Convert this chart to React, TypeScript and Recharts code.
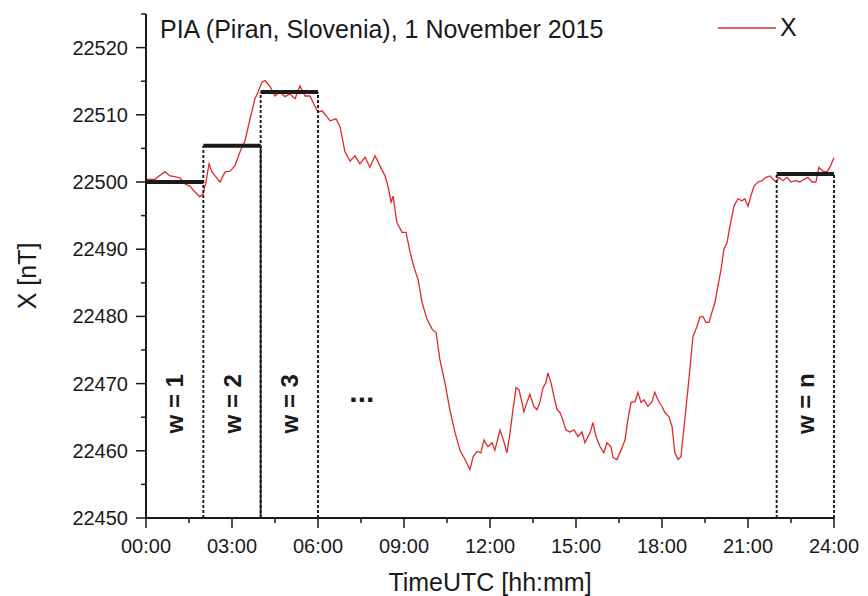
import React from 'react';
import { Label, Legend, Line, LineChart, ReferenceDot, ReferenceLine, XAxis, YAxis } from 'recharts';

// time of day in hours (UTC) and X component in nT
const hours = [
  0.0, 0.03, 0.31, 0.49, 0.66, 0.84, 1.01, 1.19, 1.36, 1.53, 1.71, 1.88, 1.99, 2.09, 2.2, 2.3, 2.41, 2.58, 2.76, 2.93,
  3.1, 3.28, 3.45, 3.63, 3.8, 3.91, 4.05, 4.15, 4.33, 4.5, 4.67, 4.85, 5.02, 5.2, 5.37, 5.55, 5.72, 5.89, 6.0, 6.14,
  6.28, 6.42, 6.63, 6.77, 6.94, 7.12, 7.29, 7.46, 7.64, 7.81, 7.99, 8.16, 8.34, 8.44, 8.55, 8.62, 8.75, 8.93, 9.07, 9.21,
  9.35, 9.49, 9.63, 9.8, 9.98, 10.12, 10.25, 10.43, 10.6, 10.78, 10.95, 11.13, 11.3, 11.41, 11.55, 11.68, 11.79, 11.93,
  12.07, 12.17, 12.28, 12.35, 12.49, 12.59, 12.7, 12.8, 12.91, 13.01, 13.11, 13.18, 13.29, 13.39, 13.53, 13.64, 13.74,
  13.85, 13.95, 14.02, 14.13, 14.23, 14.34, 14.44, 14.54, 14.65, 14.79, 14.93, 15.07, 15.21, 15.31, 15.49, 15.59, 15.7,
  15.84, 15.97, 16.08, 16.22, 16.29, 16.43, 16.57, 16.71, 16.81, 16.92, 17.06, 17.16, 17.27, 17.37, 17.51, 17.65, 17.75,
  17.89, 18.0, 18.1, 18.24, 18.35, 18.45, 18.56, 18.66, 18.77, 18.91, 18.97, 19.08, 19.22, 19.32, 19.43, 19.53, 19.64,
  19.74, 19.85, 19.95, 20.06, 20.16, 20.27, 20.37, 20.51, 20.65, 20.79, 20.89, 21.0, 21.1, 21.21, 21.35, 21.49, 21.63,
  21.77, 21.87, 21.98, 22.08, 22.22, 22.36, 22.5, 22.64, 22.81, 22.95, 23.09, 23.23, 23.37, 23.47, 23.61, 23.75, 23.86,
  24.0,
];

const xValues = [
  22500.0, 22500.4, 22500.4, 22501.0, 22501.5, 22500.9, 22500.8, 22500.6, 22499.7, 22499.4, 22498.5, 22497.8, 22498.2,
  22500.0, 22502.7, 22501.5, 22500.9, 22500.0, 22501.5, 22501.6, 22502.4, 22504.5, 22506.1, 22509.4, 22512.4, 22513.4,
  22514.9, 22515.1, 22514.2, 22512.8, 22513.4, 22512.7, 22513.1, 22512.4, 22514.3, 22512.8, 22512.8, 22511.3, 22510.4,
  22510.6, 22509.9, 22509.1, 22509.4, 22508.2, 22504.5, 22503.1, 22503.9, 22502.7, 22503.7, 22502.2, 22503.9, 22502.4,
  22500.9, 22499.4, 22497.0, 22497.9, 22494.0, 22492.5, 22492.5, 22489.6, 22487.3, 22485.5, 22482.1, 22479.6, 22478.1,
  22477.6, 22473.6, 22470.1, 22466.1, 22462.7, 22460.1, 22458.7, 22457.2, 22459.1, 22459.9, 22459.7, 22461.6, 22460.6,
  22461.2, 22460.1, 22461.9, 22463.1, 22461.3, 22459.7, 22462.7, 22466.1, 22469.4, 22469.1, 22467.3, 22465.8, 22467.2,
  22468.4, 22466.6, 22466.1, 22467.2, 22469.4, 22470.1, 22471.6, 22470.1, 22468.1, 22466.1, 22465.7, 22464.6, 22463.1,
  22462.8, 22463.1, 22462.1, 22462.8, 22461.2, 22462.7, 22464.2, 22462.1, 22460.6, 22459.7, 22461.2, 22460.6, 22459.0,
  22458.7, 22460.1, 22461.6, 22464.6, 22467.2, 22467.3, 22468.7, 22467.2, 22467.6, 22466.6, 22467.3, 22468.7, 22467.3,
  22466.6, 22465.7, 22465.1, 22463.6, 22459.7, 22458.7, 22459.1, 22463.6, 22469.4, 22472.1, 22477.0, 22478.5, 22479.9,
  22480.0, 22479.1, 22479.1, 22480.6, 22482.1, 22484.5, 22487.0, 22490.0, 22491.0, 22493.4, 22496.4, 22497.5, 22497.2,
  22497.5, 22496.4, 22497.9, 22499.4, 22500.0, 22500.2, 22500.7, 22500.9, 22500.4, 22500.0, 22500.7, 22500.2, 22500.7,
  22500.0, 22500.2, 22500.0, 22500.4, 22500.7, 22500.0, 22500.0, 22502.2, 22501.6, 22501.5, 22502.2, 22503.6,
];

// sliding windows (start, end in hours) and their mean levels
const windowStart = [0, 2, 4, 22];
const windowEnd = [2, 4, 6, 24];
const windowMean = [22500.0, 22505.4, 22513.4, 22501.2];
const windowLabels = ['w = 1', 'w = 2', 'w = 3', 'w = n'];
const windowLabelLevel = 22467.0;
const dotsTime = 7.53;
const dotsLevel = 22468.8;
const baseLevel = 22450;

const xTicks = [0, 1.5, 3, 4.5, 6, 7.5, 9, 10.5, 12, 13.5, 15, 16.5, 18, 19.5, 21, 22.5, 24];
const yTicks = [22450, 22455, 22460, 22465, 22470, 22475, 22480, 22485, 22490, 22495, 22500, 22505, 22510, 22515, 22520, 22525];

const data = hours.map((t, i) => ({ t, x: xValues[i] }));

// window edges: each edge rises to the highest mean of the windows touching it
const edges: { t: number; top: number }[] = [];
windowStart.forEach((s, i) => {
  [s, windowEnd[i]].forEach((t) => {
    const found = edges.find((e) => e.t === t);
    if (found) found.top = Math.max(found.top, windowMean[i]);
    else edges.push({ t, top: windowMean[i] });
  });
});

const font = "'Liberation Sans', Arial, sans-serif";
const ink = '#1a1a1a';
const red = '#e0292a';

const fmtTime = (h: number) => `${String(Math.floor(h)).padStart(2, '0')}:00`;

const YTick = ({ x, y, payload }: any) => {
  const major = payload.value % 10 === 0;
  const ax = x + 18;
  return (
    <g>
      <line x1={ax - (major ? 10 : 5)} x2={ax} y1={y} y2={y} stroke={ink} strokeWidth={1.5} />
      {major && (
        <text x={x} y={y + 7} textAnchor="end" fontSize={20} fontFamily={font} fill={ink}>
          {payload.value}
        </text>
      )}
    </g>
  );
};

const XTick = ({ x, y, payload }: any) => {
  const major = payload.value % 3 === 0;
  const ay = y - 14;
  return (
    <g>
      <line x1={x} x2={x} y1={ay} y2={ay + (major ? 10 : 5)} stroke={ink} strokeWidth={1.5} />
      {major && (
        <text x={x} y={y + 21} textAnchor="middle" fontSize={20} fontFamily={font} fill={ink}>
          {fmtTime(payload.value)}
        </text>
      )}
    </g>
  );
};

const legendContent = () => (
  <div style={{ display: 'flex', alignItems: 'center', fontFamily: font, fontSize: 25, lineHeight: 1, color: ink }}>
    <svg width={58} height={4}>
      <line x1={0} x2={58} y1={2} y2={2} stroke={red} strokeWidth={1.3} />
    </svg>
    <span style={{ marginLeft: 4 }}>X</span>
  </div>
);

export default function App() {
  return (
    <div style={{ position: 'relative', width: 860, height: 588 }}>
      <div
        style={{
          position: 'absolute',
          left: 152,
          top: 9,
          fontFamily: font,
          fontSize: 25,
          lineHeight: 1,
          color: ink,
          zIndex: 2,
          whiteSpace: 'nowrap',
        }}
      >
        PIA (Piran, Slovenia), 1 November 2015
      </div>
      <LineChart width={860} height={588} data={data} margin={{ top: 6, right: 34, left: 0, bottom: 0 }}>
        <XAxis
          dataKey="t"
          type="number"
          domain={[0, 24]}
          ticks={xTicks}
          interval={0}
          height={78}
          tickSize={10}
          tickMargin={4}
          tickLine={false}
          tick={<XTick />}
          axisLine={{ stroke: ink, strokeWidth: 2 }}
        >
          <Label
            content={({ viewBox }: any) => (
              <text
                x={viewBox.x + viewBox.width / 2}
                y={viewBox.y + 73}
                textAnchor="middle"
                fontSize={25}
                fontFamily={font}
                fill={ink}
              >
                TimeUTC [hh:mm]
              </text>
            )}
          />
        </XAxis>
        <YAxis
          type="number"
          domain={[22450, 22525]}
          ticks={yTicks}
          interval={0}
          width={138}
          tickSize={10}
          tickMargin={8}
          tickLine={false}
          tick={<YTick />}
          axisLine={{ stroke: ink, strokeWidth: 2 }}
        >
          <Label
            content={({ viewBox }: any) => {
              const cx = 19;
              const cy = viewBox.y + viewBox.height / 2 + 10;
              return (
                <text
                  x={cx}
                  y={cy}
                  transform={`rotate(-90, ${cx}, ${cy})`}
                  textAnchor="middle"
                  dominantBaseline="central"
                  fontSize={25}
                  fontFamily={font}
                  fill={ink}
                >
                  X [nT]
                </text>
              );
            }}
          />
        </YAxis>
        <Legend
          layout="horizontal"
          verticalAlign="middle"
          align="center"
          content={legendContent}
          wrapperStyle={{ top: 7, left: 710, width: 120 }}
        />
        <Line
          type="linear"
          dataKey="x"
          name="X"
          stroke={red}
          strokeWidth={1.3}
          dot={false}
          isAnimationActive={false}
        />
        {windowStart.map((s, i) => (
          <ReferenceLine
            key={`base${i}`}
            segment={[
              { x: s, y: baseLevel },
              { x: windowEnd[i], y: baseLevel },
            ]}
            stroke={ink}
            strokeWidth={1.8}
            strokeDasharray="3 2"
          />
        ))}
        {edges.map((e) => (
          <ReferenceLine
            key={`edge${e.t}`}
            segment={[
              { x: e.t, y: baseLevel },
              { x: e.t, y: e.top },
            ]}
            stroke={ink}
            strokeWidth={1.9}
            strokeDasharray="3 2"
          />
        ))}
        <ReferenceLine
          segment={[
            { x: windowStart[2], y: baseLevel },
            { x: windowStart[2], y: windowMean[1] },
          ]}
          stroke={ink}
          strokeWidth={1.8}
        />
        {windowStart.map((s, i) => (
          <ReferenceLine
            key={`mean${i}`}
            segment={[
              { x: s, y: windowMean[i] },
              { x: windowEnd[i], y: windowMean[i] },
            ]}
            stroke={ink}
            strokeWidth={4}
          />
        ))}
        {windowStart.map((s, i) => (
          <ReferenceDot
            key={`lab${i}`}
            x={(s + windowEnd[i]) / 2}
            y={windowLabelLevel}
            r={1}
            fill="none"
            stroke="none"
            label={{
              value: windowLabels[i],
              position: 'center',
              angle: -90,
              fontSize: 24,
              fontWeight: 'bold',
              fontFamily: font,
              fill: ink,
            }}
          />
        ))}
        <ReferenceDot
          x={dotsTime}
          y={dotsLevel}
          r={1}
          fill="none"
          stroke="none"
          label={{ value: '...', position: 'center', fontSize: 30, fontWeight: 'bold', fontFamily: font, fill: ink }}
        />
      </LineChart>
    </div>
  );
}
